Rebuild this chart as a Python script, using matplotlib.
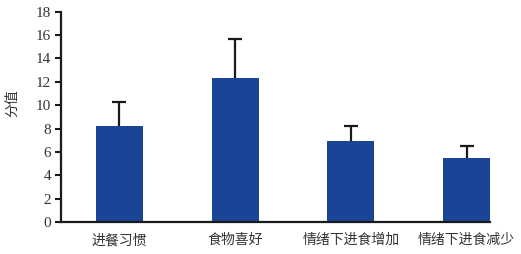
import matplotlib
matplotlib.use('Agg')
import matplotlib.pyplot as plt
import numpy as np

# 数据
categories = ['进餐习惯', '食物喜好', '情绪下进食增加', '情绪下进食减少']
values = [8.2, 12.3, 6.9, 5.45]
errors = [2.05, 3.4, 1.3, 1.05]
yticks = [0, 2, 4, 6, 8, 10, 12, 14, 16, 18]

cjk = ['Noto Sans CJK SC', 'DejaVu Sans']
serif = ['Liberation Serif', 'DejaVu Serif']
text_color = '#333333'
bar_color = '#1a4597'

fig = plt.figure(figsize=(5.21, 2.54), dpi=100)
ax = fig.add_axes([0.117, 0.126, 0.8235, 0.828])

x = np.arange(len(categories))
ax.bar(x, values, width=0.406, color=bar_color, zorder=2)
# 只画上方误差线
eb = ax.errorbar(x, values, yerr=[np.zeros(len(errors)), errors], fmt='none',
                 ecolor='#1a1a1a', elinewidth=1.6, capsize=5, capthick=1.6, zorder=1)
eb[1][0].set_visible(False)  # 下端的横线不要

ax.set_xlim(-0.506, 3.203)
ax.set_ylim(0, 18)
ax.set_yticks(yticks)
ax.set_yticklabels([str(t) for t in yticks], fontfamily=serif, fontsize=11, color=text_color)
ax.set_xticks(x)
ax.set_xticklabels(categories, fontfamily=cjk, fontsize=10, color=text_color)
ax.tick_params(axis='x', length=0, pad=8)
ax.tick_params(axis='y', length=4, width=1.5, color='#1a1a1a', pad=3)

ax.spines['top'].set_visible(False)
ax.spines['right'].set_visible(False)
for s in ['left', 'bottom']:
    ax.spines[s].set_linewidth(1.6)
    ax.spines[s].set_color('#1a1a1a')
    ax.spines[s].set_zorder(3)

ax.set_ylabel('分值', fontfamily=cjk, fontsize=10, color=text_color)
ax.yaxis.set_label_coords(-0.098, 0.567)

plt.savefig('out.png', dpi=100)
plt.close()
